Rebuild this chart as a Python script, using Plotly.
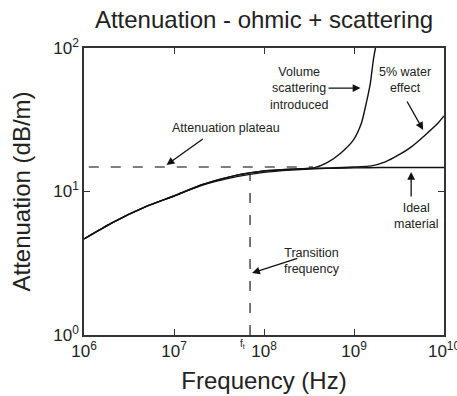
import plotly.graph_objects as go

# Data
freq_ideal = [1e6, 2e6, 5e6, 1e7, 2e7, 5e7, 1e8, 2e8, 5e8, 1e9, 2e9, 5e9, 1e10]
att_ideal = [4.67, 6.0, 7.9, 9.3, 11.0, 12.7, 13.6, 14.1, 14.5, 14.6, 14.7, 14.7, 14.7]

freq_volume = [1e6, 2e6, 5e6, 1e7, 2e7, 5e7, 1e8, 2e8, 3.57e8, 4.97e8, 7.1e8, 9.87e8, 1.21e9, 1.37e9, 1.52e9, 1.64e9, 1.73e9, 1.82e9]
att_volume = [4.67, 6.0, 7.9, 9.3, 11.1, 13.0, 13.9, 14.3, 14.6, 15.8, 18.5, 22.9, 30.0, 41.4, 57.0, 82.5, 100.0, 117.0]

freq_water = [1e6, 2e6, 5e6, 1e7, 2e7, 5e7, 1e8, 2e8, 5e8, 1e9, 1.56e9, 2.23e9, 3.1e9, 4.3e9, 6.2e9, 8.6e9, 1e10]
att_water = [4.67, 6.0, 7.9, 9.3, 11.1, 13.0, 13.9, 14.3, 14.6, 14.8, 15.1, 16.1, 17.9, 20.4, 24.8, 30.0, 33.6]

plateau_freq = [1.13e6, 3.5e8]
plateau_att = [14.8, 14.8]

ft_freq = [7.0e7, 7.0e7]
ft_att = [1.0, 13.2]

x_tickvals = [1e6, 1e7, 1e8, 1e9, 1e10]
x_ticktext = ["10<sup>6</sup>", "10<sup>7</sup>", "10<sup>8</sup>", "10<sup>9</sup>", "10<sup>10</sup>"]
y_tickvals = [1, 10, 100]
y_ticktext = ["10<sup>0</sup>", "10<sup>1</sup>", "10<sup>2</sup>"]

FONT = "Liberation Sans, Arial, sans-serif"
TXT = "#222222"

fig = go.Figure()
dash_style = dict(color="#555555", width=1.6, dash="10px,12px")
fig.add_trace(go.Scatter(x=plateau_freq, y=plateau_att, mode="lines", line=dash_style, hoverinfo="skip"))
fig.add_trace(go.Scatter(x=ft_freq, y=ft_att, mode="lines", line=dash_style, hoverinfo="skip"))
for fx, fy in [(freq_ideal, att_ideal), (freq_volume, att_volume), (freq_water, att_water)]:
    fig.add_trace(go.Scatter(x=fx, y=fy, mode="lines", line=dict(color="#111111", width=1.4, shape="spline", smoothing=0.6)))

annots = []
def text(x, y, t, size=12.5):
    annots.append(dict(x=x, y=y, xref="x", yref="y", text=t, showarrow=False,
                       font=dict(family=FONT, size=size, color=TXT), align="center"))

def arrow(x0, y0, x1, y1):
    annots.append(dict(x=x1, y=y1, ax=x0, ay=y0, xref="x", yref="y", axref="x", ayref="y",
                       text="", showarrow=True, arrowhead=2, arrowsize=1.2, arrowwidth=1.3,
                       arrowcolor="#111111", standoff=0, startstandoff=0))

text(8.387, 1.721, "Volume<br>scattering<br>introduced")
arrow(8.70, 1.721, 9.072, 1.721)
text(9.569, 1.777, "5% water<br>effect")
arrow(9.58, 1.638, 9.768, 1.429)
text(7.580, 1.446, "Attenuation plateau")
arrow(7.337, 1.373, 6.917, 1.185)
text(8.53, 0.519, "Transition<br>frequency")
arrow(8.387, 0.537, 7.867, 0.432)
text(9.69, 0.829, "Ideal<br>material")
arrow(9.635, 0.955, 9.635, 1.136)
annots.append(dict(x=7.757, y=0, xref="x", yref="paper", text="f<sub>t</sub>", showarrow=False,
                   yanchor="top", yshift=-1, font=dict(family=FONT, size=10, color=TXT)))

fig.update_layout(
    width=457, height=396,
    margin=dict(l=84, r=11, t=48, b=61),
    paper_bgcolor="white", plot_bgcolor="white",
    showlegend=False,
    title=dict(text="Attenuation - ohmic + scattering", x=0.5, xref="paper", y=0.95, yanchor="middle",
               font=dict(family=FONT, size=24, color=TXT)),
    annotations=annots,
    font=dict(family=FONT, color=TXT),
)
fig.update_xaxes(type="log", range=[6, 10], tickvals=x_tickvals, ticktext=x_ticktext,
                 ticks="inside", ticklen=6, tickwidth=1.3, tickcolor="#333333",
                 showline=True, linecolor="#333333", linewidth=1.5, mirror="ticks",
                 ticklabeloverflow="allow", automargin=False,
                 showgrid=False, zeroline=False, tickfont=dict(family=FONT, size=17, color=TXT),
                 title=dict(text="Frequency (Hz)", font=dict(family=FONT, size=24, color=TXT), standoff=12))
fig.update_yaxes(type="log", range=[0, 2], tickvals=y_tickvals, ticktext=y_ticktext,
                 ticks="inside", ticklen=6, tickwidth=1.3, tickcolor="#333333",
                 showline=True, linecolor="#333333", linewidth=1.5, mirror="ticks",
                 showgrid=False, zeroline=False, tickfont=dict(family=FONT, size=17, color=TXT),
                 title=dict(text="Attenuation (dB/m)", font=dict(family=FONT, size=24, color=TXT), standoff=16))

fig.write_html("out.html")
